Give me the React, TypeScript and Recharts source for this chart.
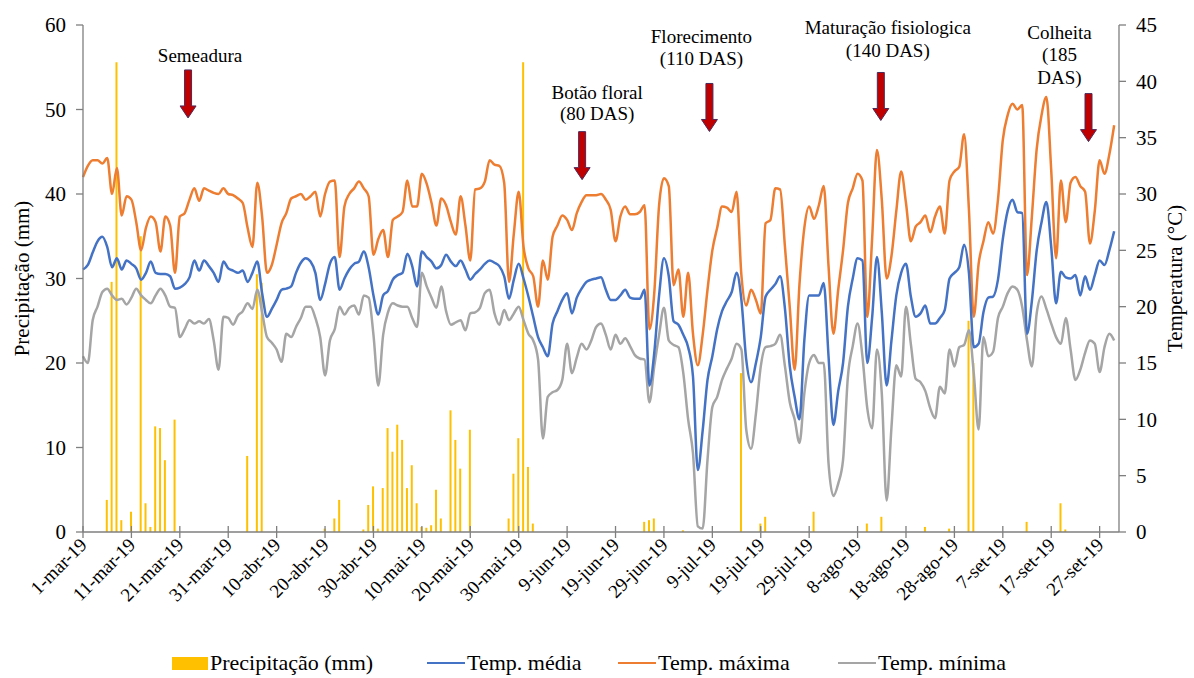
import React from 'react';
import { ComposedChart, Bar, Line, XAxis, YAxis, ReferenceDot } from 'recharts';

// daily series, 1-mar-19 (day 0) .. 30-set-19 (day 213)
const precipitacao = [
  0, 0, 0, 0, 0, 3.8, 29.6, 55.6, 1.4, 0,
  2.4, 0, 35.0, 3.4, 0.6, 12.5, 12.3, 8.5, 0, 13.3,
  0, 0, 0, 0, 0, 0, 0, 0, 0, 0,
  0, 0, 0, 0, 9.0, 0, 30.5, 29.5, 0, 0,
  0, 0, 0, 0, 0, 0, 0, 0, 0, 0,
  0.4, 0, 1.6, 3.8, 0, 0, 0, 0, 0.3, 3.2,
  5.4, 0.4, 5.2, 12.3, 9.5, 12.7, 10.9, 5.2, 7.9, 3.4,
  0.6, 0.5, 0.8, 5.0, 1.6, 0, 14.4, 10.9, 7.5, 0,
  12.1, 0, 0, 0, 0, 0, 0, 0, 1.6, 6.9,
  11.1, 55.6, 7.7, 1.0, 0, 0, 0, 0, 0, 0,
  0, 0, 0, 0, 0, 0, 0, 0, 0, 0,
  0, 0, 0, 0, 0, 0, 1.2, 1.4, 1.6, 0,
  0, 0, 0, 0, 0.2, 0, 0, 0, 0, 0,
  0, 0, 0, 0, 0, 0, 18.8, 0, 0, 0,
  1.0, 1.8, 0, 0, 0, 0, 0, 0, 0, 0,
  0, 2.4, 0, 0, 0, 0, 0, 0, 0, 0,
  0, 0, 1.0, 0, 0, 1.8, 0, 0, 0, 0,
  0, 0, 0, 0, 0.6, 0, 0, 0, 0, 0.4,
  0, 0, 0, 25.0, 20.0, 0, 0, 0, 0, 0,
  0, 0, 0, 0, 0, 1.2, 0, 0, 0, 0,
  0, 0, 3.4, 0.3, 0, 0, 0, 0, 0, 0,
  0, 0, 0, 0,
];

const tempMaxima = [
  31.5, 32.5, 33.0, 33.0, 32.7, 33.2, 30.0, 32.3, 28.1, 29.8,
  29.5, 27.5, 25.0, 27.0, 28.0, 27.5, 24.9, 28.0, 27.2, 23.0,
  28.0, 28.3, 29.5, 30.5, 29.4, 30.5, 30.3, 30.1, 30.0, 30.5,
  30.0, 29.9, 29.6, 29.2, 27.0, 25.3, 31.0, 28.0, 23.0, 23.7,
  25.5, 27.4, 28.3, 29.6, 29.8, 30.0, 29.5, 29.8, 30.2, 28.0,
  30.0, 31.1, 31.2, 24.4, 28.9, 30.0, 30.5, 31.1, 30.5, 29.8,
  24.6, 26.0, 26.8, 24.4, 27.7, 28.0, 28.4, 31.2, 28.9, 28.9,
  31.8, 30.9, 29.2, 27.2, 29.6, 29.0, 27.5, 26.4, 29.8, 27.2,
  24.1, 30.4, 30.5, 31.1, 33.0, 32.6, 32.5, 31.0, 22.2, 26.5,
  30.2, 25.3, 23.4, 22.7, 20.0, 24.1, 22.4, 26.2, 27.2, 28.1,
  27.7, 26.8, 28.3, 29.3, 29.9, 29.9, 29.9, 30.0, 29.5, 28.6,
  25.8, 28.0, 28.9, 28.2, 28.2, 28.4, 29.0, 18.0, 21.2, 29.0,
  31.4, 30.7, 21.9, 23.3, 19.1, 23.0, 17.6, 14.8, 17.5, 21.5,
  25.0, 27.0, 28.9, 28.8, 28.4, 30.2, 22.8, 20.1, 21.5, 20.6,
  19.4, 27.4, 27.7, 30.5, 30.4, 25.3, 19.9, 14.4, 22.0, 27.0,
  28.9, 27.8, 29.0, 30.7, 23.6, 17.6, 21.5, 25.0, 29.2, 30.5,
  31.8, 31.2, 19.1, 26.0, 33.9, 29.5, 22.5, 24.5, 28.5, 32.0,
  29.2, 25.8, 27.1, 27.5, 28.1, 26.6, 28.0, 28.9, 26.5, 31.2,
  32.0, 32.4, 35.3, 28.6, 19.1, 23.8, 25.8, 27.5, 26.5, 29.5,
  34.8, 37.0, 38.0, 37.5, 37.9, 22.8, 28.0, 34.0, 37.0, 38.6,
  32.1, 24.3, 31.2, 27.5, 31.0, 31.5, 30.7, 30.2, 25.6, 28.5,
  33.0, 31.8, 33.5, 36.1,
];

const tempMedia = [
  23.3, 23.7, 24.8, 25.8, 26.2, 25.3, 23.5, 24.3, 23.3, 24.1,
  23.8, 23.4, 22.4, 23.0, 24.0, 23.0, 22.9, 22.9, 22.7, 21.6,
  21.7, 22.0, 22.6, 24.1, 23.2, 24.1, 23.6, 23.0, 22.2, 24.0,
  23.4, 23.2, 23.0, 23.2, 22.2, 23.0, 24.0, 21.2, 19.1, 19.8,
  20.6, 21.5, 21.6, 21.8, 23.0, 23.9, 24.3, 24.0, 23.0, 20.6,
  22.0, 23.8, 24.4, 21.5, 22.5, 23.3, 23.8, 24.0, 24.9, 23.5,
  21.0, 19.3, 21.0, 21.4, 22.4, 22.8, 23.0, 24.7, 23.6, 21.8,
  24.9, 24.4, 24.0, 23.4, 23.7, 24.6, 24.0, 23.6, 24.1, 23.3,
  22.4, 22.9, 23.3, 23.8, 24.1, 23.9, 23.6, 22.7, 20.7, 22.4,
  23.8, 22.5, 20.9, 19.1, 17.3, 16.4, 15.6, 18.5, 19.6, 20.6,
  21.2, 19.4, 20.8, 21.6, 22.2, 22.4, 22.5, 22.6, 21.5, 20.6,
  20.6, 21.0, 21.5, 20.8, 20.7, 20.7, 21.5, 13.0, 15.9, 21.0,
  24.3, 22.7, 18.7, 18.4, 17.5, 16.4, 13.8, 5.5, 9.0, 13.5,
  15.6, 18.0, 19.6, 20.5, 21.3, 23.0, 20.6, 15.3, 13.3, 15.0,
  17.3, 20.9, 21.5, 22.0, 22.7, 19.8, 14.7, 12.0, 10.0, 17.0,
  21.0, 21.0, 21.0, 22.1, 15.6, 9.5, 12.5, 15.0, 20.0, 22.5,
  24.3, 24.1, 15.0, 19.0, 24.4, 19.5, 13.0, 17.0, 21.0, 23.0,
  23.8, 20.9, 19.1, 19.4, 20.1, 18.5, 18.5, 19.0, 19.7, 22.5,
  23.0, 23.5, 25.5, 23.0, 16.4, 16.7, 19.5, 20.8, 20.9, 22.4,
  26.0, 28.5, 29.5, 28.4, 28.3, 17.6, 20.5, 25.0, 27.5, 29.3,
  25.3, 20.3, 23.1, 22.6, 22.5, 22.8, 21.0, 22.7, 21.5, 22.8,
  24.1, 23.7, 25.0, 26.7,
];

const tempMinima = [
  15.6, 15.0, 18.8, 20.0, 21.3, 21.6, 21.0, 20.6, 20.7, 20.2,
  20.8, 21.6, 21.0, 20.6, 20.3, 21.0, 21.6, 21.0, 20.0, 19.9,
  17.3, 18.0, 18.8, 18.5, 18.7, 18.5, 18.9, 17.0, 14.4, 19.1,
  19.0, 18.4, 19.2, 19.6, 20.3, 19.8, 21.5, 19.5, 17.3, 16.8,
  16.2, 15.1, 17.6, 17.3, 18.2, 19.0, 20.0, 20.0, 19.0, 17.3,
  13.9, 17.0, 18.0, 20.0, 19.3, 19.9, 20.1, 19.3, 21.0, 20.8,
  17.5, 13.0, 17.5, 19.5, 20.3, 20.1, 20.0, 20.0, 19.0, 18.2,
  23.0, 21.8, 20.8, 19.9, 21.8, 19.6, 18.4, 18.6, 18.8, 17.9,
  19.4, 19.5, 19.9, 21.2, 21.5, 19.4, 18.4, 19.7, 18.8, 19.4,
  20.0, 18.8, 17.6, 17.0, 15.3, 8.3, 12.0, 12.4, 12.6, 13.5,
  16.7, 14.1, 15.5, 16.7, 16.2, 17.0, 18.2, 18.5, 17.5, 16.2,
  17.5, 16.7, 17.2, 16.5, 15.7, 15.4, 15.3, 11.5, 14.7, 17.5,
  19.9, 17.0, 16.6, 16.4, 14.1, 10.0, 7.0, 0.5, 0.3, 6.4,
  11.1, 12.0, 13.5, 14.5, 15.4, 16.7, 16.2, 9.1, 7.4, 10.5,
  14.7, 16.4, 16.5, 16.7, 17.5, 14.7, 11.5, 10.0, 7.9, 12.3,
  15.0, 15.7, 15.0, 15.0, 6.1, 3.2, 4.3, 6.4, 13.8, 16.5,
  18.5, 15.6, 11.0, 9.2, 16.2, 12.3, 2.8, 9.3, 14.8, 13.8,
  20.0, 16.7, 13.6, 13.3, 12.5, 11.0, 10.1, 12.9, 12.3, 16.2,
  14.7, 16.4, 16.6, 17.9, 14.1, 9.1, 17.3, 15.6, 16.0, 19.0,
  20.0, 21.2, 21.8, 21.5, 20.0, 17.0, 14.7, 19.4, 20.9, 19.8,
  18.5, 17.3, 16.7, 19.0, 16.2, 13.5, 14.4, 15.9, 17.0, 16.7,
  14.2, 16.4, 17.6, 17.0,
];

const tickDays = [0, 10, 20, 30, 40, 50, 60, 70, 80, 90, 100, 110, 120, 130, 140, 150, 160, 170, 180, 190, 200, 210];
const tickLabels = [
  '1-mar-19', '11-mar-19', '21-mar-19', '31-mar-19', '10-abr-19', '20-abr-19', '30-abr-19',
  '10-mai-19', '20-mai-19', '30-mai-19', '9-jun-19', '19-jun-19', '29-jun-19', '9-jul-19',
  '19-jul-19', '29-jul-19', '8-ago-19', '18-ago-19', '28-ago-19', '7-set-19', '17-set-19', '27-set-19',
];
const precTicks = [0, 10, 20, 30, 40, 50, 60];
const tempTicks = [0, 5, 10, 15, 20, 25, 30, 35, 40, 45];

// phenological stages: day of the arrow, arrow tip on the mm axis
const estadios = [
  { day: 21.7, tip: 49.0, lines: ['Semeadura'], dx: 12, dy: [-56] },
  { day: 103.1, tip: 41.7, lines: ['Botão floral', '(80 DAS)'], dx: 15, dy: [-81, -60] },
  { day: 129.4, tip: 47.4, lines: ['Florecimento', '(110 DAS)'], dx: -8, dy: [-88, -66] },
  { day: 164.8, tip: 48.7, lines: ['Maturação fisiologica', '(140 DAS)'], dx: 7, dy: [-86, -63] },
  { day: 207.7, tip: 46.2, lines: ['Colheita', '(185', 'DAS)'], dx: -29, dy: [-103, -81, -58] },
];

const data = precipitacao.map((p, i) => ({
  day: i,
  prec: p,
  tmed: tempMedia[i],
  tmax: tempMaxima[i],
  tmin: tempMinima[i],
}));

const FONT = '"Liberation Serif", "Times New Roman", serif';
const AXIS = '#7f7f7f';
const txt = { fontFamily: FONT };

function DateTick(props: any) {
  const { x, y, payload } = props;
  const label = tickLabels[tickDays.indexOf(payload.value)];
  const tx = x + 5;
  const ty = y + 14;
  return (
    <g>
      <line x1={x} x2={x} y1={y - 6} y2={y + 6} stroke={AXIS} strokeWidth={1.3} />
      <text x={tx} y={ty} transform={`rotate(-45, ${tx}, ${ty})`} textAnchor="end"
        style={txt} fontSize={19} fill="#000">{label}</text>
    </g>
  );
}

function NumTick(props: any) {
  const { x, y, payload, textAnchor } = props;
  return (
    <text x={x} y={y} dy="0.35em" textAnchor={textAnchor} style={txt} fontSize={21} fill="#000">
      {payload.value}
    </text>
  );
}

function stageShape(s: typeof estadios[number]) {
  return (props: any) => {
    const { cx, cy } = props;
    const len = 48;
    const head = 12;
    return (
      <g>
        <path
          d={`M${cx - 3.5},${cy - len} L${cx + 3.5},${cy - len} L${cx + 3.5},${cy - head} L${cx + 8},${cy - head} L${cx},${cy} L${cx - 8},${cy - head} L${cx - 3.5},${cy - head} Z`}
          fill="#c00000" stroke="#4b2a5a" strokeWidth={1} />
        {s.lines.map((t, k) => (
          <text key={k} x={cx + s.dx} y={cy + s.dy[k]} textAnchor="middle"
            style={txt} fontSize={19} fill="#000">{t}</text>
        ))}
      </g>
    );
  };
}

const axisTitle = (label: string, x: number) => (p: any) => {
  const vb = p.viewBox;
  const cy = vb.y + vb.height / 2;
  return (
    <text x={x} y={cy} transform={`rotate(-90, ${x}, ${cy})`} textAnchor="middle" dominantBaseline="central"
      style={txt} fontSize={21} fill="#000">{label}</text>
  );
};

const legendItems = [
  { label: 'Precipitação (mm)', color: '#ffc000', kind: 'bar', left: 172 },
  { label: 'Temp. média', color: '#4472c4', kind: 'line', left: 427 },
  { label: 'Temp. máxima', color: '#ed7d31', kind: 'line', left: 618 },
  { label: 'Temp. mínima', color: '#a5a5a5', kind: 'line', left: 838 },
];

export default function App() {
  return (
    <div style={{ position: 'absolute', left: 0, top: 0, width: 1194, height: 678, background: '#fff', fontFamily: FONT }}>
      <ComposedChart width={1194} height={678} data={data} margin={{ top: 25, right: 0, bottom: 0, left: 0 }}>
        <XAxis dataKey="day" type="number" domain={[0, 214]} ticks={tickDays} interval={0}
          height={146} tickSize={0} tickMargin={0} tick={<DateTick />}
          axisLine={{ stroke: AXIS, strokeWidth: 1.3 }} tickLine={false} />
        <YAxis yAxisId="left" domain={[0, 60]} ticks={precTicks} width={83} tickSize={7} tickMargin={10}
          axisLine={{ stroke: AXIS, strokeWidth: 1.3 }} tickLine={{ stroke: AXIS, strokeWidth: 1.3 }}
          tick={<NumTick />} label={axisTitle('Precipitação (mm)', 22)} />
        <YAxis yAxisId="right" orientation="right" domain={[0, 45]} ticks={tempTicks} width={75} tickSize={7} tickMargin={10}
          axisLine={{ stroke: AXIS, strokeWidth: 1.3 }} tickLine={{ stroke: AXIS, strokeWidth: 1.3 }}
          tick={<NumTick />} label={axisTitle('Temperatura (°C)', 1175)} />
        <Line yAxisId="right" dataKey="tmin" type="monotone" stroke="#a5a5a5" strokeWidth={2.5} dot={false} isAnimationActive={false} />
        <Line yAxisId="right" dataKey="tmax" type="monotone" stroke="#ed7d31" strokeWidth={2.5} dot={false} isAnimationActive={false} />
        <Line yAxisId="right" dataKey="tmed" type="monotone" stroke="#4472c4" strokeWidth={2.5} dot={false} isAnimationActive={false} />
        <Bar yAxisId="left" dataKey="prec" fill="#ffc000" barSize={2} isAnimationActive={false} />
        {estadios.map((s) => (
          <ReferenceDot key={s.lines[0]} yAxisId="left" x={s.day} y={s.tip} r={0} ifOverflow="visible" shape={stageShape(s)} />
        ))}
      </ComposedChart>
      {legendItems.map((it) => (
        <div key={it.label} style={{ position: 'absolute', left: it.left, top: 648, height: 30, display: 'flex', alignItems: 'center', fontFamily: FONT, fontSize: 22, color: '#000' }}>
          {it.kind === 'bar'
            ? <span style={{ display: 'inline-block', width: 36, height: 13, background: it.color }} />
            : <span style={{ display: 'inline-block', width: 38, height: 2.5, background: it.color }} />}
          <span style={{ marginLeft: 2 }}>{it.label}</span>
        </div>
      ))}
    </div>
  );
}
